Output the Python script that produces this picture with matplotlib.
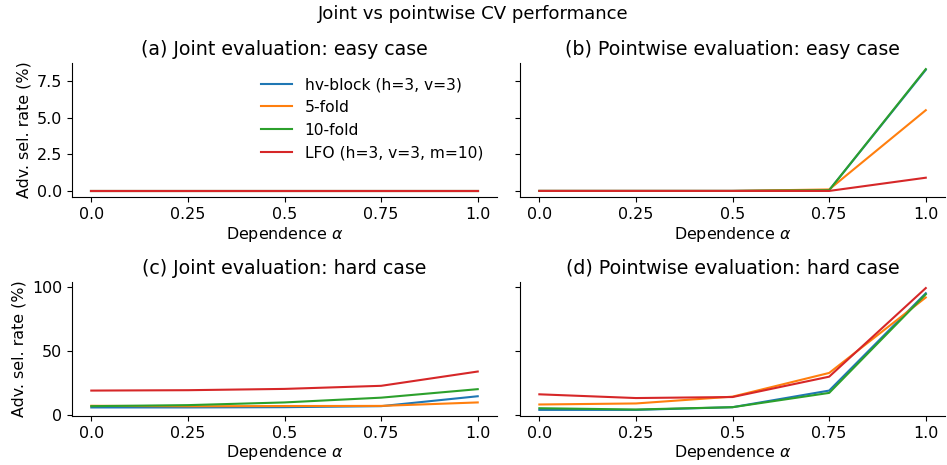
import matplotlib
matplotlib.use("Agg")
import matplotlib.pyplot as plt

plt.rcParams["font.size"] = 11.4

alphas = [0.0, 0.25, 0.5, 0.75, 1.0]
alpha_labels = ["0.0", "0.25", "0.5", "0.75", "1.0"]

methods = ["hv-block (h=3, v=3)", "5-fold", "10-fold", "LFO (h=3, v=3, m=10)"]
colors = ["tab:blue", "tab:orange", "tab:green", "tab:red"]

# Adversarial selection rate (%) per method, easy case, joint evaluation
joint_easy_hv = [0.0, 0.0, 0.0, 0.0, 0.0]
joint_easy_5f = [0.0, 0.0, 0.0, 0.0, 0.0]
joint_easy_10f = [0.0, 0.0, 0.0, 0.0, 0.0]
joint_easy_lfo = [0.0, 0.0, 0.0, 0.0, 0.0]

# Easy case, pointwise evaluation
point_easy_hv = [0.0, 0.0, 0.0, 0.05, 8.25]
point_easy_5f = [0.0, 0.0, 0.0, 0.1, 5.5]
point_easy_10f = [0.0, 0.0, 0.0, 0.05, 8.3]
point_easy_lfo = [0.0, 0.0, 0.0, 0.0, 0.9]

# Hard case, joint evaluation
joint_hard_hv = [6.1, 6.1, 6.3, 7.1, 14.8]
joint_hard_5f = [7.4, 7.0, 7.2, 7.3, 10.0]
joint_hard_10f = [7.1, 7.9, 10.0, 13.7, 20.3]
joint_hard_lfo = [19.2, 19.5, 20.5, 22.9, 34.0]

# Hard case, pointwise evaluation
point_hard_hv = [4.2, 4.2, 6.3, 19.2, 94.8]
point_hard_5f = [8.4, 9.2, 14.5, 32.9, 91.5]
point_hard_10f = [5.5, 4.5, 6.3, 17.4, 94.0]
point_hard_lfo = [16.3, 13.4, 14.2, 30.0, 98.8]

panels = [
    ("(a) Joint evaluation: easy case", [joint_easy_hv, joint_easy_5f, joint_easy_10f, joint_easy_lfo]),
    ("(b) Pointwise evaluation: easy case", [point_easy_hv, point_easy_5f, point_easy_10f, point_easy_lfo]),
    ("(c) Joint evaluation: hard case", [joint_hard_hv, joint_hard_5f, joint_hard_10f, joint_hard_lfo]),
    ("(d) Pointwise evaluation: hard case", [point_hard_hv, point_hard_5f, point_hard_10f, point_hard_lfo]),
]

fig, axes = plt.subplots(2, 2, figsize=(9.47, 4.65), dpi=100, sharey="row")
fig.subplots_adjust(left=0.076, right=0.998, top=0.8645, bottom=0.1054,
                    wspace=0.054, hspace=0.634)
for ax, (title, series) in zip(axes.flat, panels):
    for name, color, vals in zip(methods, colors, series):
        ax.plot(alphas, vals, color=color, lw=1.5, label=name)
    ax.set_title(title, fontsize=13.7)
    ax.set_xticks(alphas)
    ax.set_xticklabels(alpha_labels)
    ax.set_xlabel(r"Dependence $\alpha$", labelpad=2)
    ax.spines["top"].set_visible(False)
    ax.spines["right"].set_visible(False)

axes[0, 0].set_ylabel("Adv. sel. rate (%)")
axes[1, 0].set_ylabel("Adv. sel. rate (%)")
axes[0, 0].set_yticks([0.0, 2.5, 5.0, 7.5])
axes[1, 0].set_yticks([0, 50, 100])
axes[0, 0].legend(loc="upper right", frameon=False, fontsize=11.2)

fig.suptitle("Joint vs pointwise CV performance", fontsize=13.1, y=0.99)
fig.savefig("out.png", dpi=100)
